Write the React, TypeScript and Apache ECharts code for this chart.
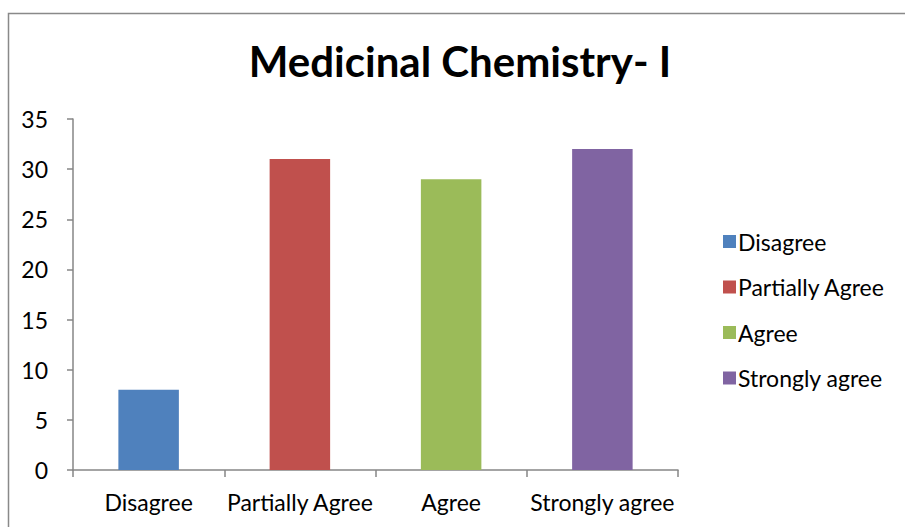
import React, { useEffect, useRef } from "react";
import * as echarts from "echarts";

const categories = ["Disagree", "Partially Agree", "Agree", "Strongly agree"];
const values = [8, 31, 29, 32];
const colors = ["#4F81BD", "#C0504D", "#9BBB59", "#8064A2"];
const titleText = "Medicinal Chemistry- I";
const FONT = "Lato";

export default function App() {
  const ref = useRef<HTMLDivElement>(null);
  useEffect(() => {
    if (!ref.current) return;
    const chart = echarts.init(ref.current, null, { renderer: "svg" });
    const series = categories.map((name, i) => ({
      name,
      type: "bar",
      stack: "all",
      barWidth: "40%",
      itemStyle: { color: colors[i] },
      data: categories.map((_, j) => (j === i ? values[i] : "-")),
    }));
    chart.setOption({
      animation: false,
      backgroundColor: "#ffffff",
      textStyle: { fontFamily: FONT },
      title: {
        text: titleText,
        left: 455,
        textAlign: "center",
        top: 35,
        textStyle: { fontFamily: FONT, fontSize: 42, fontWeight: "bold", color: "#000" },
      },
      legend: {
        orient: "vertical",
        left: 718,
        top: 225,
        itemWidth: 13,
        itemHeight: 13,
        itemGap: 22.5,
        icon: "rect",
        data: categories,
        textStyle: { fontFamily: FONT, fontSize: 23, color: "#000", lineHeight: 23, padding: [0, 0, 0, -3] },
      },
      grid: { left: 73, right: 227, top: 119, bottom: 57, containLabel: false },
      xAxis: {
        type: "category",
        data: categories,
        axisLine: { lineStyle: { color: "#868686", width: 1.5 } },
        axisTick: { show: true, length: 7, alignWithLabel: false, lineStyle: { color: "#868686", width: 1.5 } },
        axisLabel: { fontFamily: FONT, fontSize: 23, color: "#000", margin: 20, interval: 0 },
      },
      yAxis: {
        type: "value",
        min: 0,
        max: 35,
        interval: 5,
        axisLine: { show: true, lineStyle: { color: "#868686", width: 1.5 } },
        axisTick: { show: true, length: 6, lineStyle: { color: "#868686", width: 1.5 } },
        splitLine: { show: false },
        axisLabel: { fontFamily: FONT, fontSize: 23, color: "#000", margin: 25 },
      },
      graphic: [
        {
          type: "rect",
          shape: { x: 8.5, y: 13.5, width: 1200, height: 1200 },
          style: { fill: "none", stroke: "#898989", lineWidth: 1.5 },
          silent: true,
        },
      ],
      series,
    });
    return () => chart.dispose();
  }, []);
  return <div ref={ref} style={{ position: "fixed", left: 0, top: 0, width: 905, height: 527 }} />;
}
